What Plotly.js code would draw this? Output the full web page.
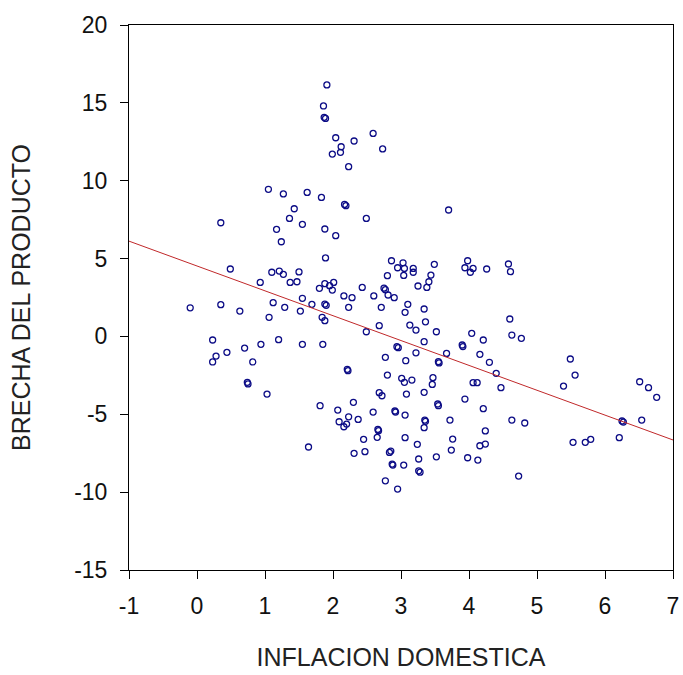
<!DOCTYPE html>
<html>
<head>
<meta charset="utf-8">
<script src="https://cdn.plot.ly/plotly-3.0.1.min.js"></script>
<style>html,body{margin:0;padding:0;background:#fff;}#chart{width:683px;height:675px;}</style>
</head>
<body>
<div id="chart"></div>
<script>
// INFLACION DOMESTICA (x) values
var inflacion = [
1.91,1.86,1.87,1.89,2.04,2.12,2.11,1.99,2.23,2.59,2.31,2.73,
1.05,1.27,1.62,1.83,2.17,2.19,1.43,1.36,1.55,0.35,1.17,1.88,2.04,1.24,2.49,3.70,
1.89,0.49,1.10,1.21,1.27,1.50,0.93,1.37,1.47,1.80,1.88,1.95,2.01,1.99,
2.86,2.95,3.03,3.05,3.18,3.18,3.49,2.80,3.04,3.44,3.41,3.25,3.38,2.43,2.75,2.77,
3.98,3.94,4.02,4.06,4.26,4.58,4.61,
2.16,2.28,2.60,2.81,2.90,2.71,2.68,2.49,2.94,2.96,
-0.10,0.35,0.63,1.12,1.29,1.06,1.52,1.55,1.69,1.88,1.90,1.84,1.88,2.23,
0.23,0.28,0.23,0.44,0.70,0.94,1.20,1.55,1.85,0.82,0.74,0.75,1.03,
2.21,2.22,2.77,2.80,2.68,2.72,1.81,2.07,2.30,2.23,2.09,2.16,2.20,2.37,2.59,2.92,
2.66,2.67,2.65,2.45,2.31,2.47,1.64,2.85,2.83,2.87,2.77,2.95,
3.10,3.06,3.34,3.36,3.13,3.22,3.52,4.60,4.63,4.04,4.21,3.34,3.22,3.07,3.55,3.56,
3.67,3.90,3.91,4.16,4.30,4.40,4.47,4.06,4.12,4.63,
3.01,3.05,3.16,3.47,3.46,3.34,3.08,3.54,3.55,3.94,4.21,2.91,3.06,3.35,3.36,3.34,
3.72,3.06,3.24,3.76,4.24,4.16,4.24,3.74,3.52,3.26,3.98,4.13,2.88,3.04,3.26,3.28,
4.77,5.49,5.56,5.39,6.51,6.64,6.76,6.25,6.27,6.54,6.21,4.82,5.53,5.71,5.79,4.73
];
// BRECHA DEL PRODUCTO (y) values
var brecha = [
16.15,14.8,14.07,14.0,12.76,12.18,11.82,11.71,10.9,13.04,12.55,12.04,
9.45,9.15,9.25,8.93,8.48,8.40,8.2,7.58,7.2,7.3,6.88,6.9,6.47,6.08,7.58,8.12,
5.04,4.33,4.12,4.2,3.99,4.14,3.47,3.47,3.51,3.09,3.39,3.26,3.47,2.98,
4.86,4.41,4.73,4.37,4.37,4.12,4.63,3.9,3.92,3.94,3.51,3.24,3.15,3.15,3.10,3.0,
4.86,4.41,4.12,4.37,4.33,4.65,4.16,
2.6,2.49,2.6,2.66,2.49,1.87,0.69,0.3,-0.66,-0.72,
1.84,2.04,1.63,2.17,1.87,1.23,1.63,2.45,2.06,2.08,2.0,1.23,1.01,1.87,
-0.23,-1.26,-1.64,-1.02,-0.75,-0.51,-0.21,-0.51,-0.51,-1.64,-2.95,-3.05,-3.7,
-2.11,-2.2,-1.34,-2.48,-3.61,-3.81,-4.45,-4.73,-4.23,-5.16,-5.48,-5.8,-5.63,-5.33,-4.86,-4.86,
-5.97,-6.05,-6.48,-6.61,-7.51,-7.4,-7.1,-7.36,-7.45,-8.2,-9.27,-9.8,
2.06,1.55,1.76,0.94,0.73,0.41,0.3,1.12,0.09,0.2,-0.23,-0.34,-1.05,-1.56,-1.62,-1.70,
-1.09,-0.55,-0.65,-1.15,-1.66,-2.37,-3.29,-2.97,-2.97,-5.37,
-2.69,-2.95,-2.8,-2.65,-3.08,-3.59,-3.70,-4.34,-4.45,-4.02,-4.64,-4.79,-5.05,-5.37,-5.45,-5.86,
-5.37,-6.5,-6.93,-6.59,-6.07,-7.02,-6.91,-7.3,-7.73,-7.87,-7.79,-7.94,-8.26,-8.26,-8.63,-8.72,
-0.12,-1.45,-2.48,-3.19,-2.91,-3.29,-3.91,-5.43,-5.5,-5.37,-6.5,-5.56,-6.8,-6.8,-6.61,-8.97
];
// Fitted line end points
var fitX = [-1, 7];
var fitY = [6.12, -6.65];

var xTicks = [-1, 0, 1, 2, 3, 4, 5, 6, 7];
var yTicks = [-15, -10, -5, 0, 5, 10, 15, 20];

var traces = [
  {
    x: inflacion, y: brecha, type: 'scatter', mode: 'markers',
    marker: {symbol: 'circle-open', size: 6, color: '#0c0c86', line: {width: 1.3, color: '#0c0c86'}},
    hoverinfo: 'x+y', showlegend: false
  },
  {
    x: fitX, y: fitY, type: 'scatter', mode: 'lines',
    line: {color: '#c0282a', width: 1},
    showlegend: false, hoverinfo: 'skip'
  }
];

var tickFont = {family: 'Liberation Sans, Arial, sans-serif', size: 23, color: '#111'};
var titleFont = {family: 'Liberation Sans, Arial, sans-serif', size: 25, color: '#222'};

var layout = {
  width: 683, height: 675,
  margin: {l: 129, r: 10, t: 25, b: 105, pad: 0},
  paper_bgcolor: '#fff', plot_bgcolor: '#fff',
  showlegend: false,
  xaxis: {
    range: [-1, 7], tickvals: xTicks, ticktext: xTicks.map(String),
    ticks: 'outside', ticklen: 8, tickwidth: 1, tickcolor: '#000',
    showline: true, linecolor: '#000', linewidth: 1, mirror: true,
    showgrid: false, zeroline: false,
    tickfont: tickFont, ticklabelstandoff: 7,
    title: {text: 'INFLACION DOMESTICA', font: titleFont, standoff: 30}
  },
  yaxis: {
    range: [-15, 20], tickvals: yTicks, ticktext: yTicks.map(String),
    ticks: 'outside', ticklen: 8, tickwidth: 1, tickcolor: '#000',
    showline: true, linecolor: '#000', linewidth: 1, mirror: true,
    showgrid: false, zeroline: false,
    tickfont: tickFont, ticklabelstandoff: 8,
    title: {text: 'BRECHA DEL PRODUCTO', font: titleFont, standoff: 36}
  }
};

Plotly.newPlot('chart', traces, layout, {displayModeBar: false, staticPlot: true});
</script>
</body>
</html>
